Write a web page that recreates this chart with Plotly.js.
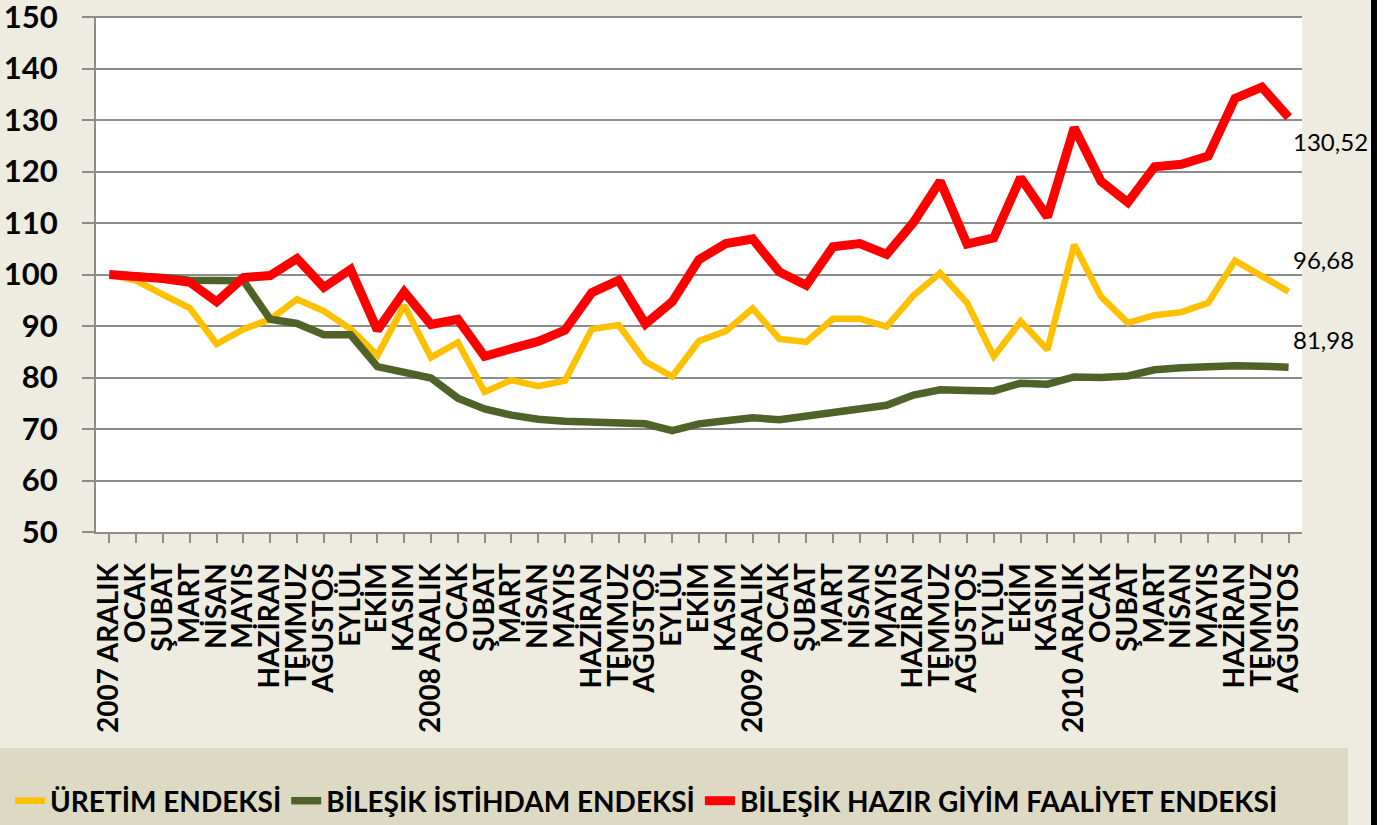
<!DOCTYPE html>
<html>
<head>
<meta charset="utf-8">
<script src="https://cdn.plot.ly/plotly-3.0.1.min.js"></script>
<style>
html,body{margin:0;padding:0;background:#EEECE1;}
#chart{width:1392px;height:825px;}
</style>
</head>
<body>
<div id="chart"></div>
<script>
const tickLabels = [
  "2007 ARALIK","OCAK","ŞUBAT","MART","NİSAN","MAYIS","HAZİRAN","TEMMUZ","AĞUSTOS","EYLÜL","EKİM","KASIM",
  "2008 ARALIK","OCAK","ŞUBAT","MART","NİSAN","MAYIS","HAZİRAN","TEMMUZ","AĞUSTOS","EYLÜL","EKİM","KASIM",
  "2009 ARALIK","OCAK","ŞUBAT","MART","NİSAN","MAYIS","HAZİRAN","TEMMUZ","AĞUSTOS","EYLÜL","EKİM","KASIM",
  "2010 ARALIK","OCAK","ŞUBAT","MART","NİSAN","MAYIS","HAZİRAN","TEMMUZ","AĞUSTOS"
];
const uretim = [100,98.8,96.1,93.5,86.5,89.4,91.3,95.2,92.9,89.4,84.3,94.0,
  83.9,86.8,77.2,79.5,78.3,79.4,89.4,90.2,83.1,80.2,87.1,89.0,
  93.4,87.5,86.9,91.4,91.4,89.9,95.9,100.3,94.5,84.1,90.9,85.4,
  105.8,95.7,90.6,92.1,92.7,94.5,102.7,99.8,96.68];
const istihdam = [100,99.8,99.4,98.9,98.8,98.8,91.3,90.5,88.3,88.3,82.1,80.9,
  79.9,76.0,73.9,72.7,71.9,71.5,71.4,71.3,71.0,69.7,71.0,71.6,
  72.2,71.8,72.5,73.4,74.0,74.6,76.6,77.6,77.5,77.4,78.9,78.7,
  80.1,80.0,80.3,81.5,81.9,82.2,82.3,82.2,81.98];
const faaliyet = [100,99.7,99.2,98.5,94.7,99.4,99.8,103.1,97.5,101.0,89.2,96.6,
  90.3,91.3,84.1,85.6,87.0,89.2,96.5,98.9,90.4,94.7,102.9,106.0,
  106.9,100.5,97.9,105.4,106.0,103.9,110.1,118.1,105.9,107.1,118.8,111.2,
  128.5,118.1,114.0,120.9,121.4,123.0,134.2,136.4,130.52];
const seriesNames = ["ÜRETİM ENDEKSİ","BİLEŞİK İSTİHDAM ENDEKSİ","BİLEŞİK HAZIR GİYİM FAALİYET ENDEKSİ"];
const endLabels = ["96,68","81,98","130,52"];

const idx = tickLabels.map((_, i) => i);
const last = idx.length - 1;

const traces = [
  {x: idx, y: uretim, name: seriesNames[0], mode: "lines", line: {color: "#FFC000", width: 6.5}, hoverinfo: "skip"},
  {x: idx, y: istihdam, name: seriesNames[1], mode: "lines", line: {color: "#4F6228", width: 7.5}, hoverinfo: "skip"},
  {x: idx, y: faaliyet, name: seriesNames[2], mode: "lines", line: {color: "#FF0000", width: 9}, hoverinfo: "skip"}
];

const W = 1392, H = 825, L = 96, R = 1302, T = 16, B = 532;
const px = X => (X - L) / (R - L);
const py = Y => (B - Y) / (B - T);

const labelFont = {family: "Lato, 'Open Sans', sans-serif", size: 24, color: "#000"};
const annotations = [
  {x: last, y: faaliyet[last], text: endLabels[2], xanchor: "left", yanchor: "middle", xshift: 2, yshift: -24, showarrow: false, font: labelFont},
  {x: last, y: uretim[last], text: endLabels[0], xanchor: "left", yanchor: "middle", xshift: 2, yshift: 32, showarrow: false, font: labelFont},
  {x: last, y: istihdam[last], text: endLabels[1], xanchor: "left", yanchor: "middle", xshift: 2, yshift: 28, showarrow: false, font: labelFont}
];

const layout = {
  width: W, height: H,
  margin: {l: L, r: W - R, t: T, b: H - B, pad: 0, autoexpand: false},
  paper_bgcolor: "#EEECE1",
  plot_bgcolor: "#FFFFFF",
  showlegend: true,
  legend: {
    orientation: "h",
    x: px(10), xanchor: "left", y: py(801), yanchor: "middle",
    bgcolor: "rgba(0,0,0,0)",
    font: {family: "Lato, 'Open Sans', sans-serif", size: 28, color: "#000", weight: "bold"},
    itemwidth: 30, traceorder: "normal"
  },
  xaxis: {
    range: [-0.5, last + 0.5],
    tickmode: "array", tickvals: idx, ticktext: tickLabels,
    tickangle: -90,
    tickfont: {family: "Lato, 'Open Sans', sans-serif", size: 28, color: "#000", weight: "bold"},
    ticks: "outside", ticklen: 9, tickwidth: 2, tickcolor: "#8C8C8C",
    ticklabelstandoff: 9,
    showgrid: false, zeroline: false,
    showline: true, linecolor: "#8C8C8C", linewidth: 2,
    fixedrange: true
  },
  yaxis: {
    range: [50, 150.2], tickmode: "linear", dtick: 10, tick0: 50,
    tickfont: {family: "Lato, 'Open Sans', sans-serif", size: 31, color: "#000", weight: "bold"},
    ticks: "outside", ticklen: 12, tickwidth: 2, tickcolor: "#8C8C8C",
    ticklabelstandoff: 18,
    ticklabeloverflow: "allow",
    showgrid: true, gridcolor: "#8C8C8C", gridwidth: 2,
    zeroline: false,
    showline: true, linecolor: "#8C8C8C", linewidth: 2,
    fixedrange: true
  },
  shapes: [
    {type: "rect", xref: "paper", yref: "paper", layer: "below",
     x0: px(0), x1: px(1348), y0: py(748), y1: py(825),
     fillcolor: "#DDD9C3", line: {width: 0}},
    {type: "rect", xref: "paper", yref: "paper", layer: "below",
     x0: px(1371), x1: px(1377), y0: py(0), y1: py(825),
     fillcolor: "#000000", line: {width: 0}},
    {type: "rect", xref: "paper", yref: "paper", layer: "below",
     x0: px(1377), x1: px(1392), y0: py(0), y1: py(825),
     fillcolor: "#FFFFFF", line: {width: 0}}
  ],
  annotations: annotations
};

Plotly.newPlot("chart", traces, layout, {displayModeBar: false, staticPlot: true});
</script>
</body>
</html>
